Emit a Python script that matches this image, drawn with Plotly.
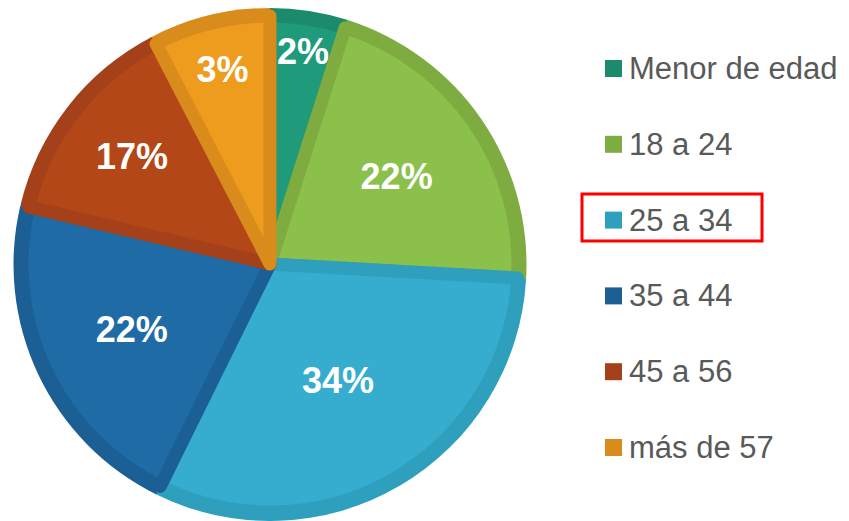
import plotly.graph_objects as go

# grupos de edad (orden de la leyenda y de los sectores, en sentido horario)
categorias = ["Menor de edad", "18 a 24", "25 a 34", "35 a 44", "45 a 56", "más de 57"]
valores = [4.9, 21.0, 31.4, 21.4, 13.7, 7.6]
# rótulos que muestra el gráfico original
etiquetas = ["2%", "22%", "34%", "22%", "17%", "3%"]

relleno = ["#1f9a7b", "#8bc04a", "#36acce", "#1e6ba6", "#b44718", "#ee9c1e"]
borde = ["#1b8a6d", "#7fac40", "#2e9fbd", "#1b5f94", "#a4411a", "#d98c1b"]

# la página añade 8 px de margen al body
OFF = 8
W, H = 849 - 2 * OFF, 521 - OFF
CX, CY = 270 - OFF, 264 - OFF  # centro del pie en px
R_OUT = 257
R_IN = 248


def domain(r):
    return dict(
        x=[max(0, (CX - r) / W), min(1, (CX + r) / W)],
        y=[max(0, (H - CY - r) / H), min(1, (H - CY + r) / H)],
    )


fig = go.Figure()

# capa de fondo: borde oscuro
fig.add_trace(
    go.Pie(
        labels=categorias,
        values=valores,
        sort=False,
        direction="clockwise",
        rotation=0,
        domain=domain(R_OUT),
        marker=dict(colors=borde, line=dict(width=0)),
        textinfo="none",
        hoverinfo="skip",
        showlegend=False,
    )
)

# capa principal
fig.add_trace(
    go.Pie(
        labels=categorias,
        values=valores,
        text=etiquetas,
        sort=False,
        direction="clockwise",
        rotation=0,
        domain=domain(R_IN),
        marker=dict(colors=relleno, line=dict(color=borde, width=13)),
        texttemplate="<b>%{text}</b>",
        textposition="inside",
        insidetextorientation="horizontal",
        insidetextfont=dict(family="Arial, Liberation Sans", size=36, color="white"),
        hovertemplate="%{label}: %{text}<extra></extra>",
        showlegend=False,
    )
)

# leyenda manual (espaciado amplio como en el original)
y0, paso, lado = 68.5 - OFF, 75.8, 17
for i, (cat, col) in enumerate(zip(categorias, borde)):
    yc = y0 + i * paso
    fig.add_shape(
        type="rect",
        xref="paper", yref="paper",
        x0=(605 - OFF) / W, x1=(605 - OFF + lado) / W,
        y0=(H - yc - lado / 2) / H, y1=(H - yc + lado / 2) / H,
        fillcolor=col, line=dict(width=0),
    )
    fig.add_annotation(
        x=(627 - OFF) / W, y=(H - yc) / H,
        xref="paper", yref="paper",
        xanchor="left", yanchor="middle",
        text=cat, showarrow=False,
        font=dict(family="Arial, Liberation Sans", size=31, color="#595959"),
    )

# recuadro rojo sobre "25 a 34"
fig.add_shape(
    type="rect",
    xref="paper", yref="paper",
    x0=(582 - OFF) / W, x1=(762 - OFF) / W,
    y0=(H - (241 - OFF)) / H, y1=(H - (194 - OFF)) / H,
    line=dict(color="#ff0000", width=3),
    fillcolor="rgba(0,0,0,0)",
)

fig.update_layout(
    width=W,
    height=H,
    margin=dict(l=0, r=0, t=0, b=0),
    paper_bgcolor="white",
    plot_bgcolor="white",
    uniformtext=dict(minsize=36, mode="show"),
    showlegend=False,
)

fig.write_html("out.html")
